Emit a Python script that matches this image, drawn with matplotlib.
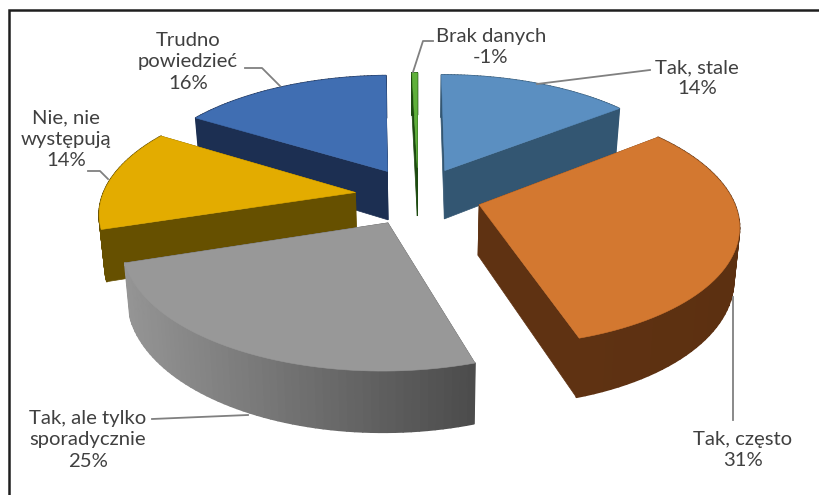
import numpy as np
import matplotlib
matplotlib.use("Agg")
import matplotlib.pyplot as plt
from matplotlib.patches import Polygon
from matplotlib.colors import to_rgb

# --- data -----------------------------------------------------------------
categories = ["Tak, stale", "Tak, często", "Tak, ale tylko\nsporadycznie",
              "Nie, nie\nwystępują", "Trudno\npowiedzieć", "Brak danych"]
percent_labels = ["14%", "31%", "25%", "14%", "16%", "-1%"]
slice_values = [14.4, 30.7, 24.9, 13.7, 15.8, 0.4]

top_colors = ["#5B8FC1", "#D37830", "#989898", "#E3AC00", "#406EB2", "#5FB03A"]
cut_colors = ["#335672", "#5F3212", "#4F4F4F", "#665000", "#1C2F52", "#1D4A10"]
rim_left = ["#335672", "#5F3212", "#959595", "#665000", "#1C2F52", "#1D4A10"]
rim_right = ["#335672", "#5C3011", "#4C4C4C", "#665000", "#1C2F52", "#1D4A10"]

# --- projection parameters ------------------------------------------------
X0, Y0 = 418.0, 196.0
A, B = 253.0, 117.0
P = 0.15
EXPLODE = 0.25
DEPTH = 50.0


def project(x, y, drop=0.0):
    s = 1.0 / (1.0 + P * y)
    shrink = 1.0 - 0.018 * (drop > 0)
    return X0 + A * x * s * shrink, Y0 - B * y * s + drop * s


fig = plt.figure(figsize=(8.2, 4.95), dpi=100, facecolor="white")
ax = fig.add_axes([0, 0, 1, 1])
ax.set_xlim(0, 820)
ax.set_ylim(495, 0)
ax.axis("off")

total = sum(slice_values)
edges = np.cumsum([0.0] + slice_values) / total * 2 * np.pi
mids = (edges[:-1] + edges[1:]) / 2
order = sorted(range(len(slice_values)), key=lambda i: -np.cos(mids[i]))

for z, i in enumerate(order):
    dx, dy = EXPLODE * np.sin(mids[i]), EXPLODE * np.cos(mids[i])
    t = np.linspace(edges[i], edges[i + 1], 60)
    px, py = dx + np.sin(t), dy + np.cos(t)

    top = np.column_stack(project(px, py))
    bot = np.column_stack(project(px, py, DEPTH))
    apex_t = np.array(project(dx, dy))
    apex_b = np.array(project(dx, dy, DEPTH))
    zb = 10 + z * 4

    # radial cut faces
    for end in (0, -1):
        ax.add_patch(Polygon([apex_t, top[end], bot[end], apex_b], closed=True,
                             fc=cut_colors[i], ec=cut_colors[i], lw=0.5, zorder=zb))
    # outer rim, shaded along the arc
    c0, c1 = np.array(to_rgb(rim_left[i])), np.array(to_rgb(rim_right[i]))
    xmin, xmax = top[:, 0].min(), top[:, 0].max()
    for k in range(len(t) - 1):
        f = (top[k, 0] - xmin) / max(xmax - xmin, 1)
        col = c0 + (c1 - c0) * f
        ax.add_patch(Polygon([top[k], top[k + 1], bot[k + 1], bot[k]], closed=True,
                             fc=col, ec=col, lw=1.2, joinstyle="round", zorder=zb + 1))
    # top face
    ax.add_patch(Polygon(np.vstack([apex_t, top]), closed=True,
                         fc=top_colors[i], ec=top_colors[i], lw=0.4, zorder=zb + 2))

# frame (top and left rules only)
ax.plot([9, 9, 820], [495, 10, 10], color="#1E1E1E", lw=1.8, zorder=2,
        solid_joinstyle="miter", clip_on=False)

# leader lines
leader = dict(color="#808080", lw=1.3, zorder=60)
ax.plot([537, 650], [84, 70], **leader)
ax.plot([413, 423, 433], [72, 41, 41], **leader)
ax.plot([245, 262, 280], [68, 68, 86], **leader)
ax.plot([88, 100, 108], [171, 171, 179], **leader)
ax.plot([152, 248], [419, 415], **leader)
ax.plot([733, 733], [297, 420], **leader)

# labels
label_pos = [(697, 78), (743, 450), (88, 440), (66, 139), (188, 62), (491, 47)]
for cat, pct, (lx, ly) in zip(categories, percent_labels, label_pos):
    ax.text(lx, ly, cat + "\n" + pct, ha="center", va="center",
            family="Lato", fontsize=14.6, color="#404040",
            linespacing=1.3, zorder=70)

fig.savefig("out.png", dpi=100, facecolor="white")
